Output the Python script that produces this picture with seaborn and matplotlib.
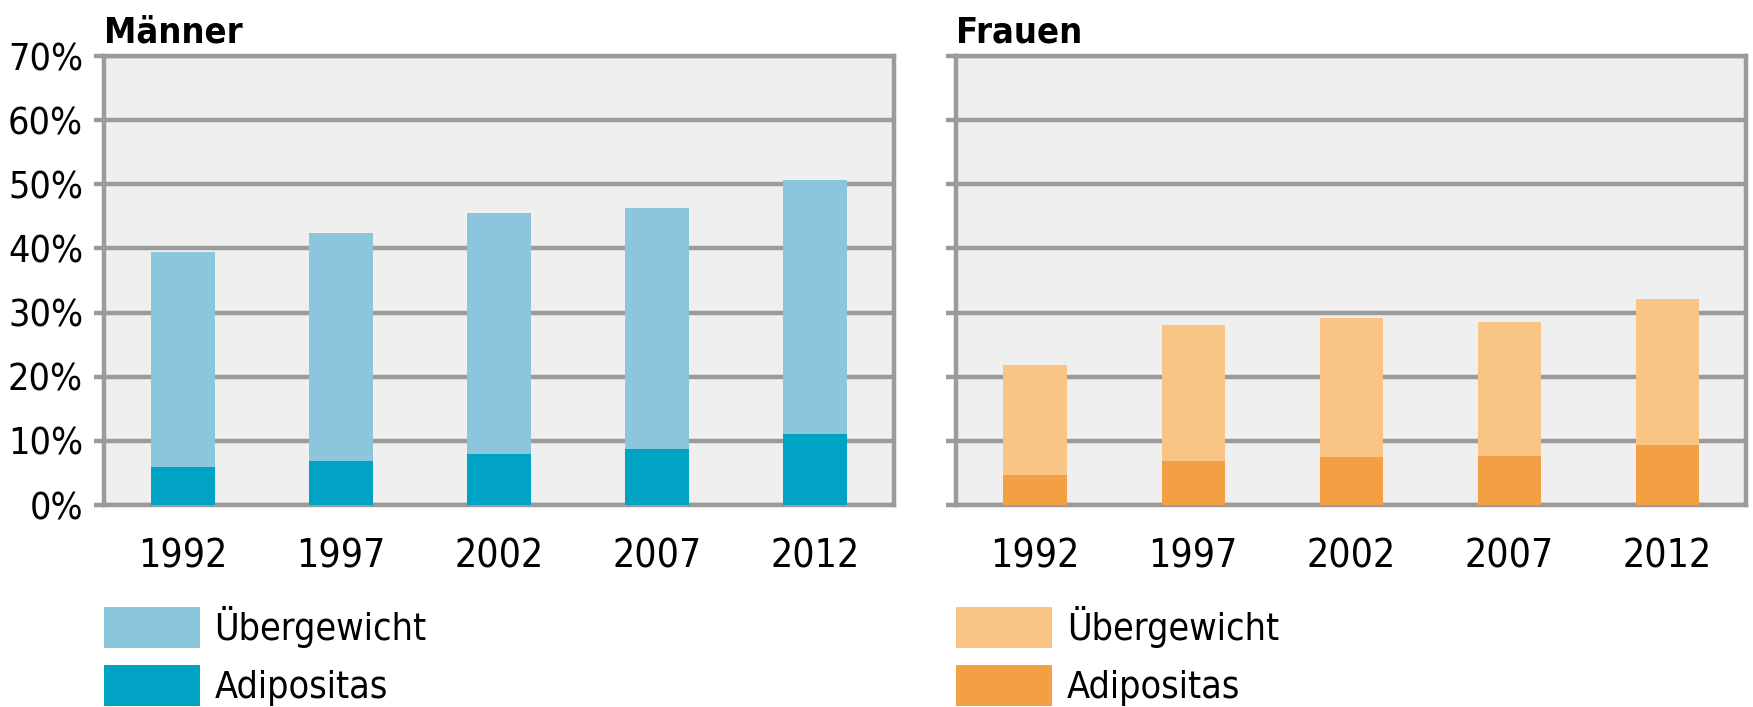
import pandas as pd
import matplotlib.pyplot as plt
import seaborn as sns

# Values (share of population, in %)
years = ['1992', '1997', '2002', '2007', '2012']
men_overweight = [39.4, 42.4, 45.6, 46.3, 50.7]
men_obese = [6.0, 6.8, 7.9, 8.7, 11.1]
women_overweight = [21.8, 28.1, 29.2, 28.6, 32.1]
women_obese = [4.7, 6.9, 7.5, 7.7, 9.3]

sns.set_style('white')
plt.rcParams['font.family'] = ['DejaVu Sans']
plt.rcParams['font.stretch'] = 'condensed'

grey = '#9b9b9b'
panels = [
    ('Männer', men_overweight, men_obese, '#8bc6dc', '#00a3c4'),
    ('Frauen', women_overweight, women_obese, '#f9c585', '#f49f43'),
]

fig = plt.figure(figsize=(17.53, 7.07), dpi=100)
lefts = [0.0593, 0.5454]

for i, (title, over, obese, c_light, c_dark) in enumerate(panels):
    ax = fig.add_axes([lefts[i], 0.2857, 0.4507, 0.635])
    df = pd.DataFrame({'Jahr': years, 'Übergewicht': over, 'Adipositas': obese})
    sns.barplot(data=df, x='Jahr', y='Übergewicht', color=c_light, width=0.4,
                saturation=1, ax=ax, label='Übergewicht', zorder=3, linewidth=0)
    sns.barplot(data=df, x='Jahr', y='Adipositas', color=c_dark, width=0.4,
                saturation=1, ax=ax, label='Adipositas', zorder=4, linewidth=0)

    ax.set_facecolor('#efefef')
    ax.set_xlim(-0.5, 4.5)
    ax.set_ylim(0, 70)
    ax.set_yticks(range(0, 71, 10))
    ax.set_yticklabels([f'{v}%' for v in range(0, 71, 10)] if i == 0 else [])
    ax.set_xlabel('')
    ax.set_ylabel('')
    ax.grid(axis='y', color=grey, linewidth=3.2, zorder=1)
    ax.set_axisbelow(True)
    for sp in ax.spines.values():
        sp.set_color(grey)
        sp.set_linewidth(3.2)
        sp.set_visible(True)
    ax.tick_params(axis='y', left=True, length=7, width=3.2, color=grey,
                   labelsize=27, pad=8, labelcolor='black')
    ax.tick_params(axis='x', bottom=False, labelsize=28, pad=20, labelcolor='black')
    ax.set_title(title, loc='left', fontsize=26, fontweight='bold', pad=10, x=0.0,
                 color='black')

    handles, labels = ax.get_legend_handles_labels()
    ax.legend(handles, labels, loc='upper left', bbox_to_anchor=(0, -0.225),
              frameon=False, fontsize=27, handlelength=2.55, handleheight=1.3,
              labelspacing=0.45, handletextpad=0.4, borderpad=0, borderaxespad=0,
              labelcolor='black')

fig.savefig('out.png', dpi=100)
